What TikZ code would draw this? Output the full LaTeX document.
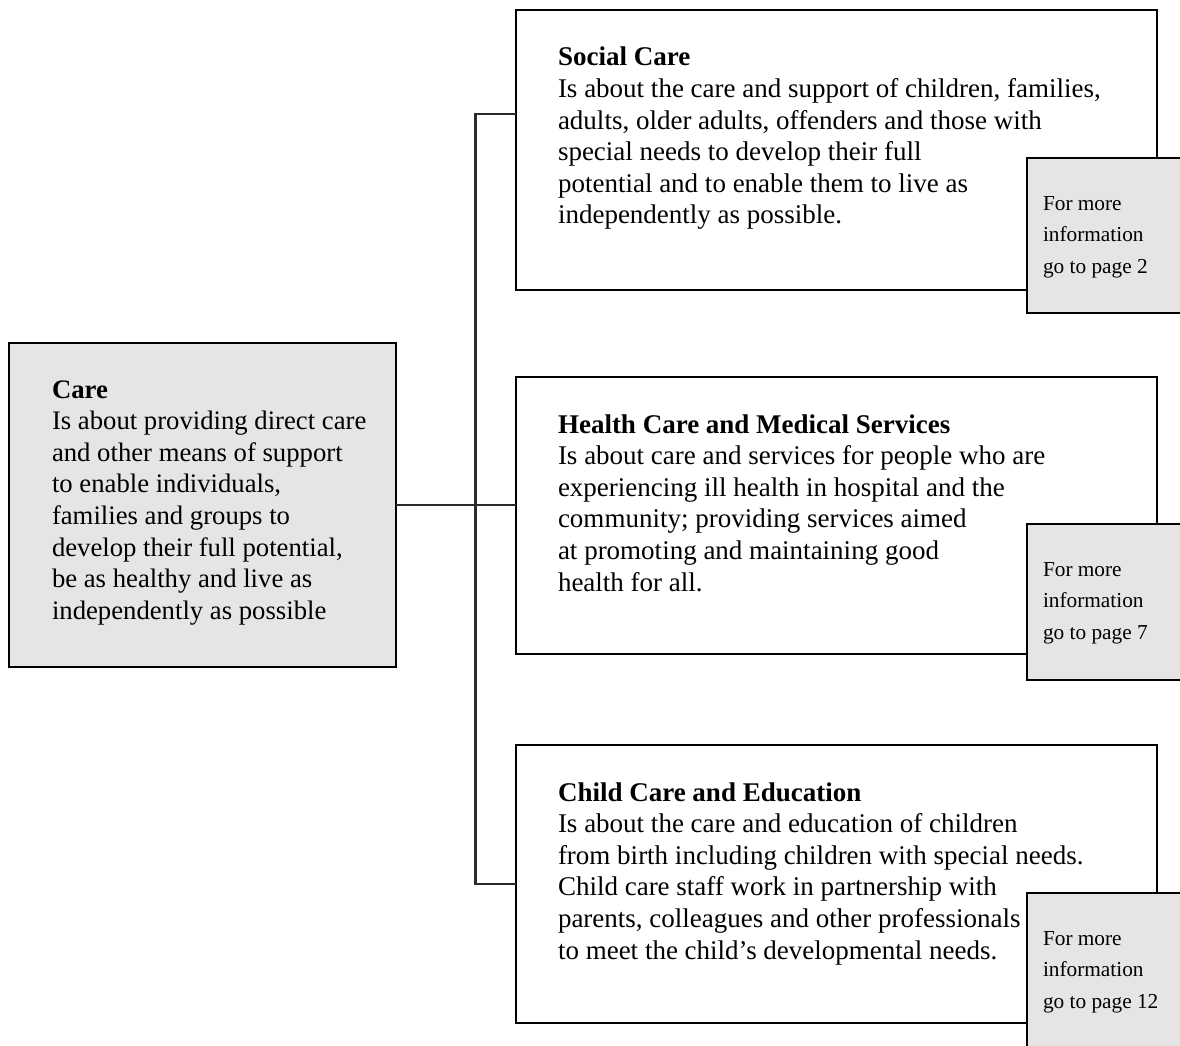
\documentclass[tikz,border=0pt]{standalone}
\usepackage{fontspec}
\setmainfont{Liberation Serif}
\definecolor{boxgray}{HTML}{E5E5E5}
\definecolor{conngray}{HTML}{2A2A2A}
\newcommand{\tightsp}{\spaceskip=0.25em plus 0.1em minus 0.05em\relax}
\begin{document}
\begin{tikzpicture}[x=1pt,y=-1pt,
  mainbox/.style={draw=black, line width=2.6pt, inner sep=0pt, outer sep=0pt, anchor=north west, fill=white},
  graybox/.style={mainbox, fill=boxgray},
  maintext/.style={anchor=base west, inner sep=0pt, outer sep=0pt, text width=640pt, align=left,
     font=\fontsize{27}{31.6}\selectfont},
  caretext/.style={maintext, text width=330pt,
     font=\fontsize{26.7}{31.6}\selectfont},
  smalltext/.style={anchor=base west, inner sep=0pt, outer sep=0pt, text width=140pt, align=left,
     font=\fontsize{21.3}{31.7}\selectfont},
  conn/.style={draw=conngray, line width=2.2pt}]
\useasboundingbox (0,0) rectangle (1180,1046);
\fill[white] (0,0) rectangle (1180,1046);

% left box
\node[graybox, minimum width=387pt, minimum height=324pt] (care) at (9,343) {};
\node[caretext] (caretextnode) at (52,398)
  {\tightsp\textbf{Care}\\Is about providing direct care\\and other means of support\\to enable individuals,\\families and groups to\\develop their full potential,\\be as healthy and live as\\independently as possible};

% right boxes
\node[mainbox, minimum width=641pt, minimum height=280pt] (social) at (516,10) {};
\node[mainbox, minimum width=641pt, minimum height=277pt] (health) at (516,377) {};
\node[mainbox, minimum width=641pt, minimum height=278pt] (child) at (516,745) {};

\node[maintext] (socialtext) at (558,66)
  {\tightsp\textbf{Social Care}\\Is about the care and support of children, families,\\adults, older adults, offenders and those with\\special needs to develop their full\\potential and to enable them to live as\\independently as possible.};
\node[maintext] (healthtext) at (558,433)
  {\tightsp\textbf{Health Care and Medical Services}\\Is about care and services for people who are\\experiencing ill health in hospital and the\\community; providing services aimed\\at promoting and maintaining good\\health for all.};
\node[maintext] (childtext) at (558,801)
  {\tightsp\textbf{Child Care and Education}\\Is about the care and education of children\\from birth including children with special needs.\\Child care staff work in partnership with\\parents, colleagues and other professionals\\to meet the child’s developmental needs.};

% small gray boxes
\node[graybox, minimum width=180pt, minimum height=155pt] (more1) at (1027,158) {};
\node[graybox, minimum width=180pt, minimum height=156pt] (more2) at (1027,524) {};
\node[graybox, minimum width=180pt, minimum height=170pt] (more3) at (1027,893) {};
\node[smalltext] (more1text) at (1043,210) {\tightsp For more\\information\\go to page 2};
\node[smalltext] (more2text) at (1043,576) {\tightsp For more\\information\\go to page 7};
\node[smalltext] (more3text) at (1043,945) {\tightsp For more\\information\\go to page 12};

% connectors
\coordinate (top) at (475.5,114);
\draw[conn] (care.east) -- (health.west |- care.east);
\draw[conn] (social.west |- top) -- (top) |- (child.west);
\end{tikzpicture}
\end{document}
